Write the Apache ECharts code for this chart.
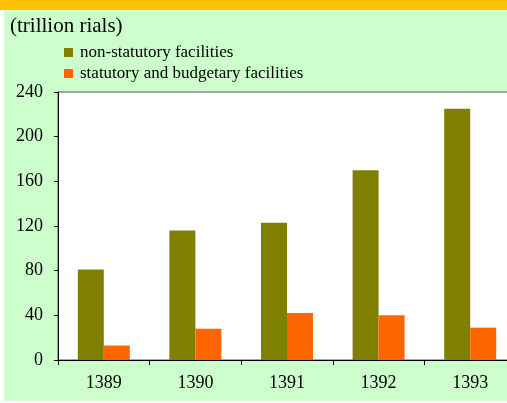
<!DOCTYPE html>
<html>
<head>
<meta charset="utf-8">
<script src="https://cdn.jsdelivr.net/npm/echarts@6/dist/echarts.min.js"></script>
<style>
html,body{margin:0;padding:0;background:#fff;overflow:hidden;}
#c{width:520px;height:403px;}
</style>
</head>
<body>
<div id="c"></div>
<script>
const categories = ['1389', '1390', '1391', '1392', '1393'];
const nonStatutory = [81, 116, 123, 170, 225];
const statutoryBudgetary = [13, 28, 42, 40, 29];
const seriesNames = ['non-statutory facilities', 'statutory and budgetary facilities'];
const unitLabel = '(trillion rials)';

const FONT = '"Liberation Serif", "DejaVu Serif", serif';
const chart = echarts.init(document.getElementById('c'), null, {renderer: 'canvas'});
chart.setOption({
  backgroundColor: '#ffffff',
  animation: false,
  graphic: [
    {type: 'rect', z: -100, shape: {x: 0, y: 0, width: 520, height: 10}, style: {fill: '#FFC000'}},
    {type: 'rect', z: -100, shape: {x: 4, y: 10, width: 516, height: 391}, style: {fill: '#CCFFCC'}}
  ],
  title: {
    text: unitLabel,
    left: 5, top: 11,
    textStyle: {fontFamily: FONT, fontSize: 21, fontWeight: 'normal', color: '#000'}
  },
  legend: {
    orient: 'vertical',
    left: 59, top: 39,
    itemWidth: 9, itemHeight: 9,
    itemGap: 4,
    icon: 'rect',
    textStyle: {fontFamily: FONT, fontSize: 17, lineHeight: 17, color: '#000', padding: [0, 0, 0, 2]},
    data: seriesNames
  },
  grid: {
    left: 58, top: 92, width: 458, height: 268,
    show: true, backgroundColor: '#ffffff', borderColor: '#555', borderWidth: 1
  },
  xAxis: {
    type: 'category',
    data: categories,
    axisLine: {lineStyle: {color: '#000', width: 1}},
    axisTick: {show: true, inside: false, length: 5, lineStyle: {color: '#000'}},
    axisLabel: {fontFamily: FONT, fontSize: 18, color: '#000', margin: 14},
    splitLine: {show: false}
  },
  yAxis: {
    type: 'value',
    min: 0, max: 240, interval: 40,
    axisLine: {show: true, lineStyle: {color: '#000', width: 1}},
    axisTick: {show: true, inside: false, length: 4, lineStyle: {color: '#000'}},
    axisLabel: {fontFamily: FONT, fontSize: 18, color: '#000', margin: 15},
    splitLine: {show: false}
  },
  series: [
    {
      name: seriesNames[0], type: 'bar', data: nonStatutory,
      barWidth: 26, barGap: '0%',
      itemStyle: {color: '#808000'}
    },
    {
      name: seriesNames[1], type: 'bar', data: statutoryBudgetary,
      barWidth: 26, barGap: '0%',
      itemStyle: {color: '#FF6600'}
    }
  ]
});
</script>
</body>
</html>
